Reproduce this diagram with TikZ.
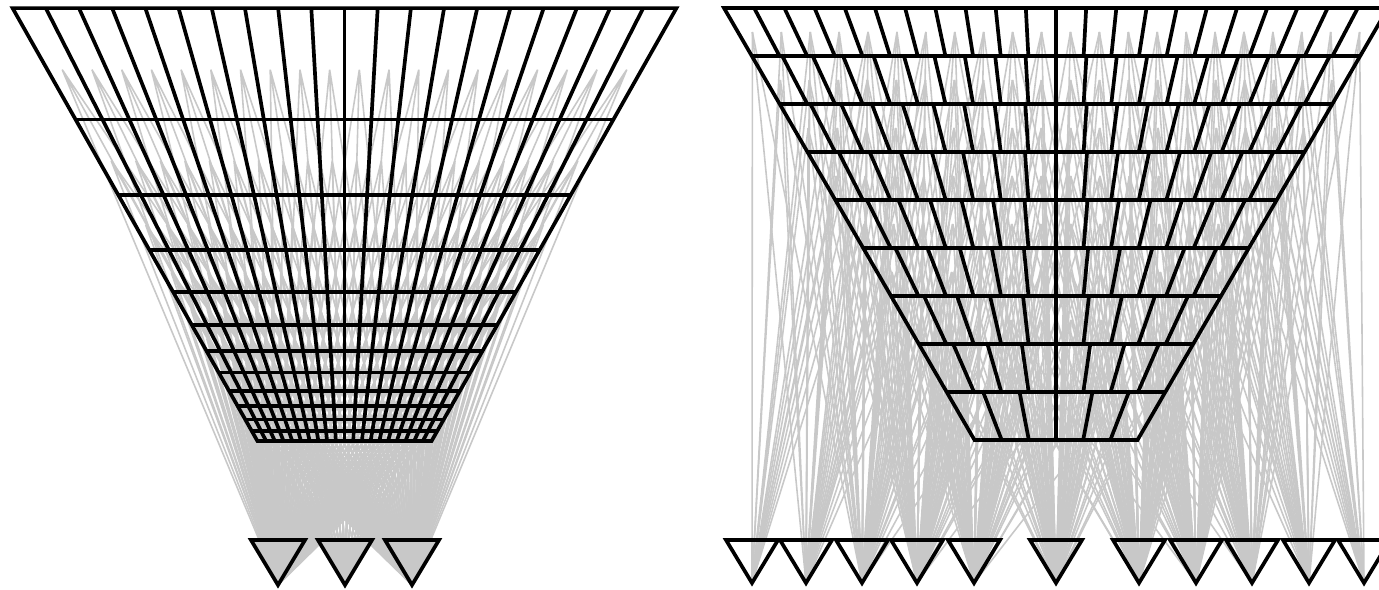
\documentclass[tikz,border=0pt]{standalone}
\usetikzlibrary{calc}
\definecolor{wireGray}{HTML}{C8C8C8}
\tikzset{
  gridLine/.style={draw=black, line width=2.1pt},
  gridEdge/.style={draw=black, line width=2.1pt, line join=miter},
  wire/.style={draw=wireGray, line width=0.9pt},
  unitFillL/.style={fill=wireGray},
  unitFillR/.style={fill=white},
  unitEdge/.style={draw=black, line width=2.1pt, line join=miter},
}
\def\unitsL{1/278, 2/345, 3/412}
\def\unitsR{1/752, 2/806, 3/862, 4/917, 5/974, 6/1056, 7/1139, 8/1196, 9/1252, 10/1309, 11/1364}

\begin{document}
\begin{tikzpicture}[x=0.02cm, y=-0.02cm]
  \useasboundingbox (0,0) rectangle (1379,589);
  \clip (0,0) rectangle (1379,589);

  % output units
  \foreach \k/\ax in \unitsL {
    \coordinate (outL-\k) at (\ax,585);
    \fill[unitFillL] (outL-\k) -- ++(-27,-45) -- ++(54,0) -- cycle;
  }
  \foreach \k/\ax in \unitsR {
    \coordinate (outR-\k) at (\ax,583);
    \fill[unitFillR] (outR-\k) -- ++(-26,-43) -- ++(52,0) -- cycle;
  }

  % left net: every cell to every unit
  \foreach \i in {0,...,11} {
    \pgfmathsetmacro\dm{1000/(1.704+0.399*(\i+0.5))}
    \foreach \j in {0,...,19} {
      \pgfmathsetmacro\xc{344.5+0.5656*\dm*((2*\j+1)/20-1)}
      \coordinate (cL) at ({\xc},{595-\dm});
      \draw[wire] (cL) -- (outL-1) (cL) -- (outL-2) (cL) -- (outL-3);
    }
  }

  % right net: cells near a unit only
  \foreach \k in {0,...,8} {
    \pgfmathsetmacro\yc{32+48*\k}
    \pgfmathsetmacro\hc{332-0.5799*(\yc-8)}
    \pgfmathtruncatemacro\n{22-2*\k}
    \pgfmathtruncatemacro\nn{\n-1}
    \foreach \m in {0,...,\nn} {
      \pgfmathsetmacro\xc{1056+\hc*((2*\m+1)/\n-1)}
      \coordinate (cR) at ({\xc},{\yc});
      \foreach \t/\ax in \unitsR {
        \pgfmathtruncatemacro\near{abs(\xc-\ax)<130}
        \ifnum\near=1 \draw[wire] (cR) -- (outR-\t); \fi
      }
    }
  }

  % left grid
  \foreach \i in {1,...,11} {
    \pgfmathsetmacro\dd{1000/(1.704+0.399*\i)}
    \draw[gridLine] ({344.5-0.5656*\dd},{595-\dd}) -- ({344.5+0.5656*\dd},{595-\dd});
  }
  \foreach \j in {1,...,19}
    \draw[gridLine] ({344.5+331.9*(\j/10-1)},8.15) -- ({344.5+87.13*(\j/10-1)},440.96);
  \draw[gridEdge] (12.6,8.15) -- (676.4,8.15) -- (431.6,440.96) -- (257.4,440.96) -- cycle;

  % right grid
  \foreach \k in {1,...,8} {
    \pgfmathsetmacro\yy{8+48*\k}
    \pgfmathsetmacro\hh{332-0.5799*(\yy-8)}
    \draw[gridLine] ({1056-\hh},{\yy}) -- ({1056+\hh},{\yy});
  }
  \foreach \k in {0,...,8} {
    \pgfmathsetmacro\yt{8+48*\k}
    \pgfmathsetmacro\ht{332-0.5799*48*\k}
    \pgfmathsetmacro\hb{332-0.5799*48*(\k+1)}
    \pgfmathtruncatemacro\n{22-2*\k}
    \pgfmathtruncatemacro\nn{\n-1}
    \foreach \m in {1,...,\nn}
      \draw[gridLine] ({1056+\ht*(2*\m/\n-1)},{\yt}) -- ({1056+\hb*(2*\m/\n-1)},{\yt+48});
  }
  \draw[gridEdge] (724,8) -- (1388,8) -- (1137.5,440) -- (974.5,440) -- cycle;

  % unit outlines
  \foreach \k/\ax in \unitsL
    \draw[unitEdge] (outL-\k) -- ++(-27,-45) -- ++(54,0) -- cycle;
  \foreach \k/\ax in \unitsR
    \draw[unitEdge] (outR-\k) -- ++(-26,-43) -- ++(52,0) -- cycle;
\end{tikzpicture}
\end{document}
